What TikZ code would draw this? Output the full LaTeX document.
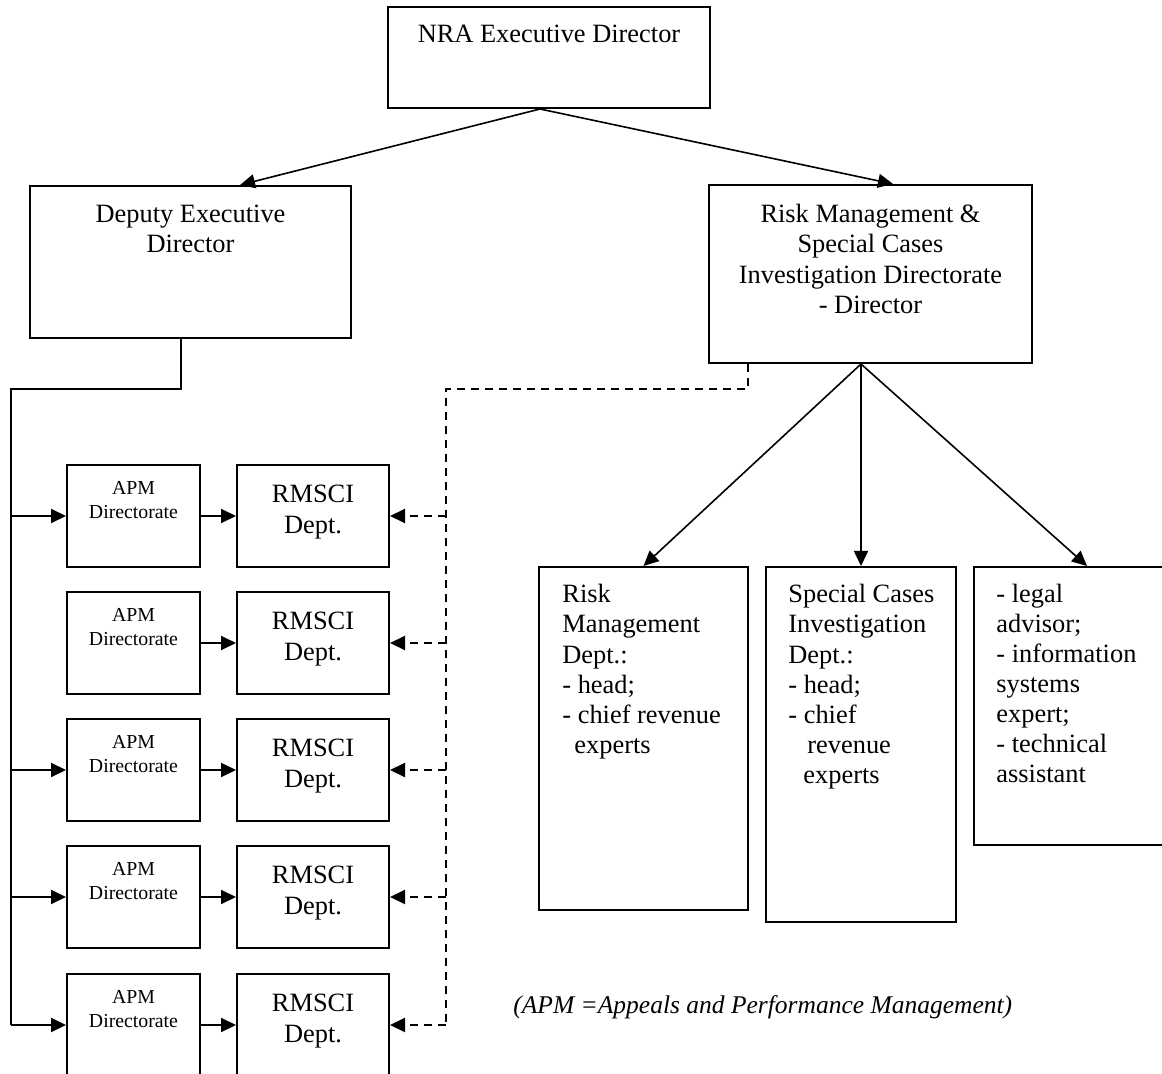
\documentclass[tikz,border=0pt]{standalone}
\usepackage{fontspec}
\setmainfont{Liberation Serif}
\usetikzlibrary{arrows.meta}
\begin{document}
\begin{tikzpicture}[x=0.5pt,y=-0.5pt,
  >={Triangle[length=7.5pt,width=7pt]},
  box/.style={draw, line width=1pt, inner sep=0pt},
  wh/.style 2 args={minimum width={(#1)*0.5pt}, minimum height={(#2)*0.5pt}},
  maintxt/.style={font=\fontsize{13.2}{15.1}\selectfont, inner sep=0pt},
  rmstxt/.style={font=\fontsize{13.2}{15.5}\selectfont, inner sep=0pt},
  smalltxt/.style={font=\fontsize{9.9}{12}\selectfont, inner sep=0pt},
  conn/.style={line width=1pt},
  slant/.style={line width=0.8pt, ->},
  dashconn/.style={line width=1pt, dash pattern=on 4pt off 3pt}
]
\useasboundingbox (0,0) rectangle (1162,1074);
\fill[white] (0,0) rectangle (1162,1074);
\clip (0,0) rectangle (1162,1074);

% main boxes
\node[box, wh={322}{101}] (top) at (549,57.5) {};
\node[maintxt, anchor=base] (ttop) at (549,43) {NRA Executive Director};

\node[box, wh={321}{152}] (dep) at (190.5,262) {};
\node[maintxt, align=center, anchor=north] (tdep) at (190.5,204.5) {Deputy Executive\\Director};

\node[box, wh={323}{178}] (risk) at (870.5,274) {};
\node[maintxt, align=center, anchor=north] (trisk) at (870.5,204) {Risk Management \&\\Special Cases\\Investigation Directorate\\- Director};

% sub boxes
\node[box, wh={209}{343}] (rm) at (643.5,738.5) {};
\node[maintxt, align=left, anchor=north west] (trm) at (562,584) {Risk\\Management\\Dept.:\\- head;\\- chief revenue\\\hspace*{6pt}experts};

\node[box, wh={190}{355}] (sc) at (861,744.5) {};
\node[maintxt, align=left, anchor=north west] (tsc) at (788,584) {Special Cases\\Investigation\\Dept.:\\- head;\\- chief\\\hspace*{9.5pt}revenue\\\hspace*{7.5pt}experts};

\node[box, wh={226}{278}] (th) at (1087,706) {};
\node[maintxt, align=left, anchor=north west, font=\fontsize{13.2}{15}\selectfont] (tth) at (996,584) {- legal\\advisor;\\- information\\systems\\expert;\\- technical\\assistant};

% arrows from top
\coordinate (tapex) at ([xshift=-4.5pt]top.south);
\draw[slant] (tapex) -- ([xshift=24.75pt]dep.north);
\draw[slant] (tapex) -- ([xshift=11.25pt]risk.north);

% arrows from risk
\coordinate (rapex) at ([xshift=-4.75pt]risk.south);
\draw[slant] (rapex) -- (rm.north);
\draw[slant] (rapex) -- (sc.north);
\draw[slant] (rapex) -- (th.north);

% APM / RMSCI rows
\foreach \i/\t in {1/465,2/592,3/719,4/846,5/974} {
  \node[box, wh={133}{102}] (apm\i) at (133.5,\t+51) {};
  \node[smalltxt, align=center, anchor=north] (apmt\i) at (133.5,\t+16) {APM\\Directorate};
  \node[box, wh={152}{102}] (rms\i) at (313,\t+51) {};
  \node[rmstxt, align=center, anchor=north] (rmst\i) at (313,\t+19.5) {RMSCI\\Dept.};
  \draw[conn, ->] (apm\i.east) -- (rms\i.west);
}

% solid bus from deputy
\coordinate (dstub) at ([xshift=-4.75pt]dep.south);
\coordinate (bus) at (11,389);
\draw[conn] (dstub) |- (bus) -- (apm5.west -| bus);
\foreach \i in {1,3,4,5} {
  \draw[conn, ->] (apm\i.west -| bus) -- (apm\i.west);
}

% dashed bus from risk
\coordinate (rstub) at ([xshift=-61.25pt]risk.south);
\coordinate (dbus) at (446,389);
\draw[dashconn] (rstub) |- (dbus) -- (rms5.east -| dbus);
\foreach \i in {1,2,3,4,5} {
  \draw[dashconn, ->] (rms\i.east -| dbus) -- (rms\i.east);
}

% footnote
\node[font=\itshape\fontsize{12.75}{15}\selectfont, anchor=base west, inner sep=0pt] (note) at (513,1013) {(APM =Appeals and Performance Management)};
\end{tikzpicture}
\end{document}
